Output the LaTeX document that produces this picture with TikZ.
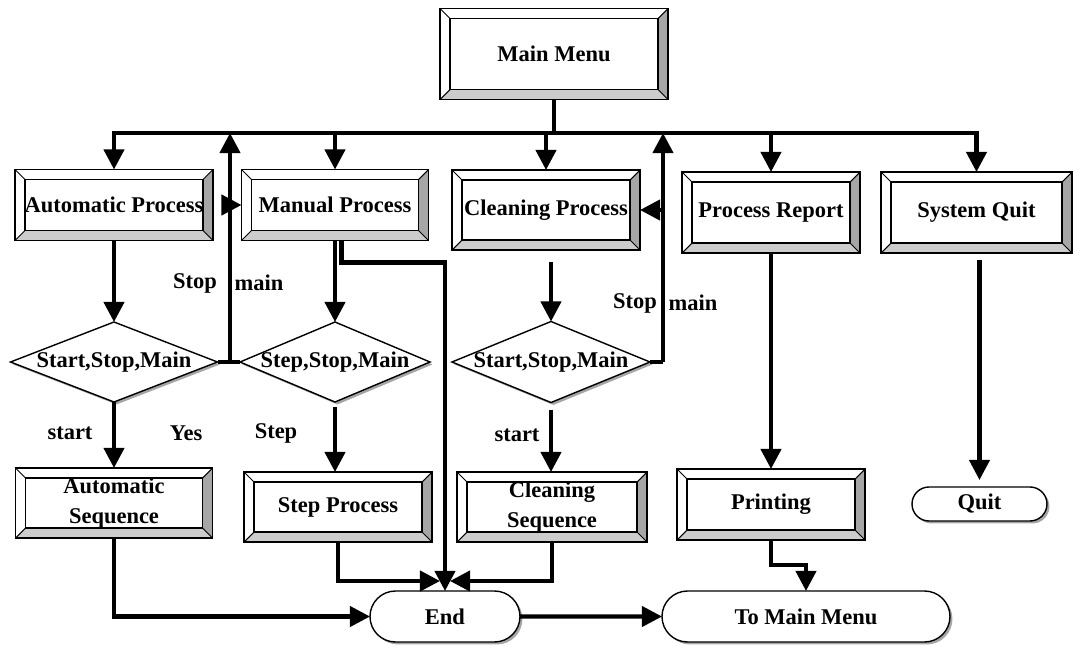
\documentclass[tikz,border=0pt]{standalone}
\usepackage{fontspec}
\setmainfont{Liberation Serif}
\usetikzlibrary{arrows.meta,shapes.geometric,shapes.misc,shadows}

\def\pix{0.02cm}

\tikzset{
  every node/.style={font=\bfseries\fontsize{12.8}{15.8}\selectfont},
  wh/.style 2 args={minimum width=#1*\pix, minimum height=#2*\pix},
  panel/.style={draw, line width=1pt, rectangle, inner sep=0pt, outer sep=0pt, align=center,
    path picture={
      \coordinate (sw) at (path picture bounding box.south west);
      \coordinate (se) at (path picture bounding box.south east);
      \coordinate (nw) at (path picture bounding box.north west);
      \coordinate (ne) at (path picture bounding box.north east);
      \fill[gray!40] (sw) -- (se) -- ([shift={(-10,-10)}]se) -- ([shift={(10,-10)}]sw) -- cycle;
      \fill[gray!70] (se) -- (ne) -- ([shift={(-10,10)}]ne) -- ([shift={(-10,-10)}]se) -- cycle;
      \draw[line width=0.8pt] ([shift={(10,-10)}]sw) rectangle ([shift={(-10,10)}]ne);
      \draw[line width=0.6pt] (sw) -- ++(10,-10) (nw) -- ++(10,10) (ne) -- ++(-10,10) (se) -- ++(-10,-10);
    }},
  choice/.style={draw, diamond, line width=0.8pt, fill=white, inner sep=0pt, outer sep=0pt,
    drop shadow={shadow xshift=1.4pt, shadow yshift=-1.4pt, fill=gray!70, opacity=1}},
  term/.style={draw, rounded rectangle, line width=0.8pt, fill=white, inner sep=0pt, outer sep=0pt,
    drop shadow={shadow xshift=1.4pt, shadow yshift=-1.4pt, fill=gray!70, opacity=1}},
  tag/.style={inner sep=0pt},
  link/.style={line width=2.3pt},
  flow/.style={link, -{Triangle[length=11.5pt, width=11.5pt]}},
}

\begin{document}
\begin{tikzpicture}[x=\pix, y=-\pix]
  \useasboundingbox (0,0) rectangle (1073,646);

  \node[panel, wh={228}{91}] (mainmenu) at (554,54) {Main Menu};
  \node[panel, wh={198}{71}] (autoproc) at (114,205) {Automatic Process};
  \node[panel, wh={187}{71}] (manproc) at (335,205) {Manual Process};
  \node[panel, wh={188}{80}] (cleanproc) at (546,210) {Cleaning Process};
  \node[panel, wh={178}{81}] (report) at (771,212.5) {Process Report};
  \node[panel, wh={191}{81}] (sysquit) at (976.5,212.5) {System Quit};

  \node[choice, wh={207}{80}] (dec1) at (114,362) {\makebox[0pt]{Start,Stop,Main}};
  \node[choice, wh={190}{80}] (dec2) at (335,362) {\makebox[0pt]{Step,Stop,Main}};
  \node[choice, wh={198}{81}] (dec3) at (551,362) {\makebox[0pt]{Start,Stop,Main}};

  \node[panel, wh={197}{70}] (autoseq) at (114,503) {Automatic\\[1pt]Sequence};
  \node[panel, wh={188}{70}] (stepproc) at (338,507) {Step Process};
  \node[panel, wh={190}{70}] (cleanseq) at (552,507) {Cleaning\\[1pt]Sequence};
  \node[panel, wh={188}{71}] (printing) at (771,504.5) {Printing};
  \node[term, wh={135}{34}] (quit) at (979.5,504) {Quit};

  \node[term, wh={150}{51}] (end) at (445,616.5) {End};
  \node[term, wh={288}{51}] (tomain) at (806,616.5) {To Main Menu};

  \coordinate (bus) at (554,133);
  \draw[link] (mainmenu.south) -- (bus);
  \foreach \n in {autoproc,manproc,cleanproc,report,sysquit}
    \draw[flow] (bus) -| (\n.north);

  \draw[flow] (autoproc.south) -- (dec1.north);
  \draw[flow] (manproc.south) -- (dec2.north);
  \draw[flow, shorten <=12*\pix] (cleanproc.south -| dec3.north) -- (dec3.north);

  \draw[flow] (dec1.south) -- (autoseq.north);
  \draw[flow, shorten <=5*\pix] (dec2.south) -- (dec2.south |- stepproc.north);
  \draw[flow, shorten <=7*\pix] (dec3.south) -- (dec3.south |- cleanseq.north);

  \coordinate (loop1) at (230,362);
  \draw[link] (dec1.east) -- (dec2.west);
  \draw[flow] (loop1) -- (loop1 |- bus);
  \draw[flow] (loop1 |- manproc.west) -- (manproc.west);

  \coordinate (loop2) at (663,362);
  \draw[link] (dec3.east) -- (loop2);
  \draw[flow] (loop2) -- (loop2 |- bus);
  \draw[flow] (loop2 |- cleanproc.east) -- (cleanproc.east);

  \draw[flow] ([xshift=6.5*\pix]manproc.south) -- ++(0,22) -| (end.north);
  \draw[flow] (stepproc.south) |- ([shift={(-5,-10)}]end.north);
  \draw[flow] (cleanseq.south) |- ([shift={(5,-10)}]end.north);
  \draw[flow] (autoseq.south) |- (end.west);
  \draw[flow] (end) -- (tomain);

  \draw[flow] (report.south) -- (printing.north);
  \draw[flow] (printing.south) -- ++(0,25) -| (tomain.north);
  \draw[flow, shorten <=7*\pix, shorten >=7*\pix] (sysquit.south -| quit.north) -- (quit.north);

  \node[tag] (stop1) at (195,283) {Stop};
  \node[tag] (main1) at (259,283) {main};
  \node[tag] (stop2) at (635,303) {Stop};
  \node[tag] (main2) at (693,303) {main};
  \node[tag] (start1) at (70,433) {start};
  \node[tag] (yes1) at (186,433) {Yes};
  \node[tag] (step2) at (276,433) {Step};
  \node[tag] (start3) at (517,435) {start};
\end{tikzpicture}
\end{document}
